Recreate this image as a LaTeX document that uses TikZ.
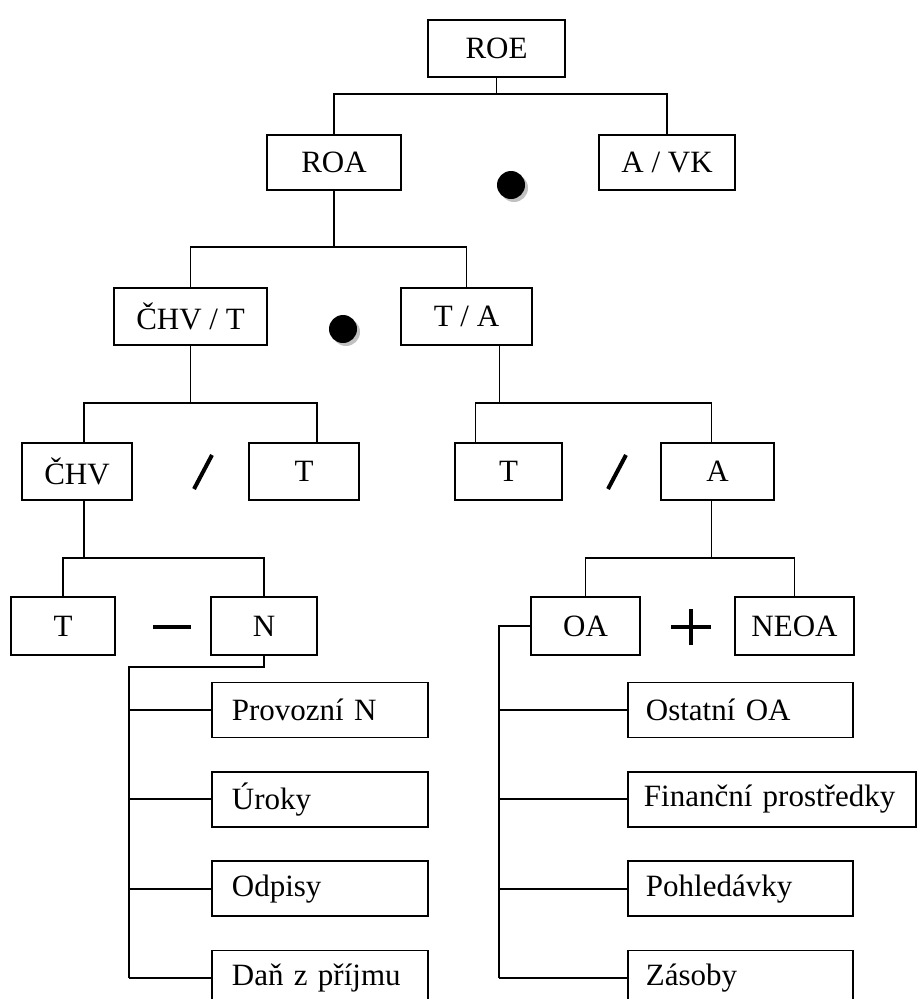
\documentclass[tikz,border=0pt]{standalone}
\usepackage{fontspec}
\setmainfont{Liberation Serif}
\usetikzlibrary{shadows, positioning}
\tikzset {
  box/.style = {draw, line width=1.8pt, minimum height=57pt, inner sep=0pt, text centered, font=\fontsize{31}{36}\selectfont},
  item/.style = {draw, line width=1.8pt, minimum height=55pt, inner xsep=20pt, inner ysep=0pt, text width=#1, align=left, font=\fontsize{31}{36}\selectfont},
  line/.style = {line width=1.8pt},
  op/.style = {line width=4pt},
  dot/.style = {circle, fill=black, inner sep=0pt, minimum size=28pt, drop shadow={shadow xshift=3pt, shadow yshift=-3pt, fill=gray!60, opacity=0.8}}
}

\begin{document}
\begin{tikzpicture}[x=1pt, y=-1pt]
    \useasboundingbox (0,0) rectangle (916,999);

    % levels of the horizontal connectors
    \coordinate (j1) at (0,94);
    \coordinate (j2) at (0,247);
    \coordinate (j3) at (0,403);
    \coordinate (j4) at (0,558);
    \coordinate (j5) at (0,667);

    \node[box, minimum width=137pt] (roe) at (496.5,48.5) {ROE};

    \node[box, minimum width=134pt, minimum height=55pt] (roa) at (334,162.5) {ROA};
    \node[box, minimum width=136pt, minimum height=55pt] (avk) at (667,162.5) {A / VK};
    \node[dot] (dot1) at (511,185) {};

    \node[box, minimum width=153pt] (chvt) at (190.5,316.5) {ČHV / T};
    \node[box, minimum width=131pt] (ta) at (466.5,316.5) {T / A};
    \node[dot] (dot2) at (343,329) {};

    \node[box, minimum width=110pt] (chv) at (77,471.5) {ČHV};
    \node[box, minimum width=110pt] (t1) at (304,471.5) {T};
    \node[box, minimum width=107pt] (t2) at (508.5,471.5) {T};
    \node[box, minimum width=113pt] (a) at (717.5,471.5) {A};

    \node[box, minimum width=104pt, minimum height=58pt] (t3) at (63,626) {T};
    \node[box, minimum width=106pt, minimum height=58pt] (n) at (264,626) {N};
    \node[box, minimum width=109pt, minimum height=58pt] (oa) at (585.5,626) {OA};
    \node[box, minimum width=119pt, minimum height=58pt] (neoa) at (794.5,626) {NEOA};

    % operators
    \draw[op] (194,489) -- (212,455);
    \draw[op] (608,489) -- (626,455);
    \draw[op] (153,627) -- (191,627);
    \draw[op] (671,627) -- (711,627);
    \draw[op] (691,609) -- (691,645);

    % lists
    \node[item=176pt, anchor=west] (prov) at (211,710) {Provozní N};
    \node[item=176pt, below=32.5pt of prov] (uroky) {Úroky};
    \node[item=176pt, below=32.5pt of uroky] (odpisy) {Odpisy};
    \node[item=176pt, below=32.5pt of odpisy] (dan) {Daň z příjmu};

    \node[item=189pt, inner xsep=18pt, anchor=west] (ostatni) at (627,710) {Ostatní OA};
    \node[item=256pt, inner xsep=16pt, below=32.5pt of ostatni.south west, anchor=north west] (fin) {Finanční prostředky};
    \node[item=189pt, inner xsep=18pt, below=32.5pt of fin.south west, anchor=north west] (pohl) {Pohledávky};
    \node[item=189pt, inner xsep=18pt, below=32.5pt of pohl.south west, anchor=north west] (zas) {Zásoby};

    % off-centre joints
    \coordinate (chvn) at ([xshift=7pt]chv.north);
    \coordinate (chvs) at ([xshift=7pt]chv.south);
    \coordinate (t1n) at ([xshift=13pt]t1.north);
    \coordinate (tas) at ([xshift=33pt]ta.south);
    \coordinate (t2n) at ([xshift=-33pt]t2.north);
    \coordinate (an) at ([xshift=-6pt]a.north);
    \coordinate (as) at ([xshift=-6pt]a.south);
    \coordinate (nl) at (129,0);
    \coordinate (oal) at (499,0);

    % connectors
    \draw[line] (roe.south) -- (roe.south |- j1);
    \draw[line] (roa.north) |- (avk.north |- j1) -- (avk.north);

    \draw[line] (roa.south) -- (roa.south |- j2);
    \draw[line] (chvt.north) |- (ta.north |- j2) -- (ta.north);

    \draw[line] (chvt.south) -- (chvt.south |- j3);
    \draw[line] (chvn) |- (t1n |- j3) -- (t1n);
    \draw[line] (tas) -- (tas |- j3);
    \draw[line] (t2n) |- (an |- j3) -- (an);

    \draw[line] (chvs) -- (chvs |- j4);
    \draw[line] (t3.north) |- (n.north |- j4) -- (n.north);
    \draw[line] (as) -- (as |- j4);
    \draw[line] (oa.north) |- (neoa.north |- j4) -- (neoa.north);

    \draw[line] (n.south) |- (nl |- j5) -- (nl |- dan.west);
    \foreach \i in {prov, uroky, odpisy, dan}
        \draw[line] (\i.west) -- (nl |- \i.west);

    \draw[line] (oa.west) -| (oal |- zas.west);
    \foreach \i in {ostatni, fin, pohl, zas}
        \draw[line] (\i.west) -- (oal |- \i.west);

\end{tikzpicture}
\end{document}
